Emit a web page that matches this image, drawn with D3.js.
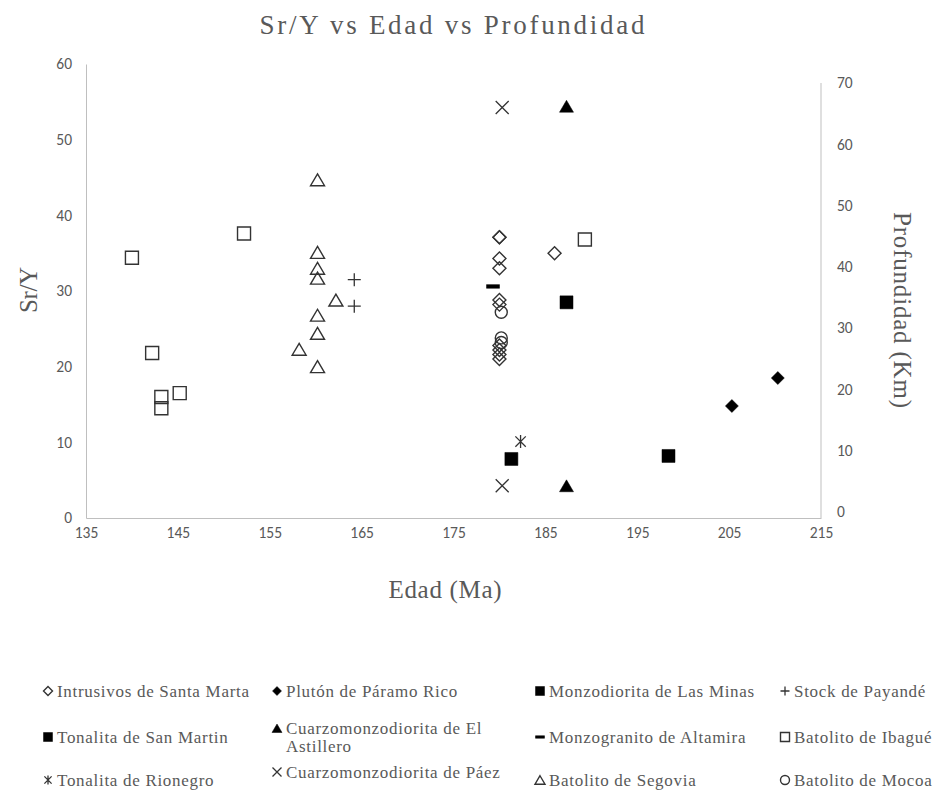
<!DOCTYPE html>
<html>
<head>
<meta charset="utf-8">
<script src="https://cdn.jsdelivr.net/npm/d3@7"></script>
<style>
  body { margin: 0; background: #fff; }
  svg { display: block; }
</style>
</head>
<body>
<div class="canvas"></div>
<script>
// ---- data ----
const xTicks = [135, 145, 155, 165, 175, 185, 195, 205, 215];
const leftTicks = [0, 10, 20, 30, 40, 50, 60];
const rightTicks = [0, 10, 20, 30, 40, 50, 60, 70];

const santaMartaAge = [180, 180, 180, 180, 180, 180, 180, 180, 180, 180, 186];
const santaMartaSrY = [37.1, 37.1, 34.3, 33.0, 28.8, 28.2, 22.8, 22.2, 21.6, 21.0, 35.0];
const paramoRicoAge = [205.3, 210.3];
const paramoRicoSrY = [14.8, 18.5];
const lasMinasAge = [187.3, 198.4];
const lasMinasSrY = [28.5, 8.2];
const payandeAge = [164.2, 164.2];
const payandeSrY = [31.5, 28.0];
const sanMartinAge = [181.3];
const sanMartinSrY = [7.8];
const astilleroAge = [187.3, 187.3];
const astilleroProf = [66.2, 4.2];
const altamiraAge = [179.3];
const altamiraSrY = [30.6];
const ibagueAge = [140.0, 152.2, 142.2, 143.2, 143.2, 145.2, 189.3];
const ibagueSrY = [34.4, 37.6, 21.8, 16.0, 14.5, 16.5, 36.8];
const rionegroAge = [182.3];
const rionegroSrY = [10.1];
const paezAge = [180.3, 180.3];
const paezProf = [66.0, 4.2];
const segoviaAge = [160.2, 160.2, 160.2, 160.2, 162.2, 160.2, 160.2, 158.2, 160.2];
const segoviaSrY = [44.7, 35.1, 33.0, 31.7, 28.8, 26.8, 24.4, 22.3, 20.0];
const mocoaAge = [180.2, 180.2, 180.2];
const mocoaSrY = [27.2, 23.8, 23.2];

// legend order, row by row
const series = [
  { name: 'Intrusivos de Santa Marta', shape: 'diamond', filled: false, axis: 'left', x: santaMartaAge, y: santaMartaSrY },
  { name: 'Plutón de Páramo Rico', shape: 'diamond', filled: true, axis: 'left', x: paramoRicoAge, y: paramoRicoSrY },
  { name: 'Monzodiorita de Las Minas', shape: 'square', filled: true, axis: 'left', x: lasMinasAge, y: lasMinasSrY },
  { name: 'Stock de Payandé', shape: 'plus', filled: false, axis: 'left', x: payandeAge, y: payandeSrY },
  { name: 'Tonalita de San Martin', shape: 'square', filled: true, axis: 'left', x: sanMartinAge, y: sanMartinSrY },
  { name: 'Cuarzomonzodiorita de El Astillero', shape: 'triangle', filled: true, axis: 'right', x: astilleroAge, y: astilleroProf },
  { name: 'Monzogranito de Altamira', shape: 'dash', filled: true, axis: 'left', x: altamiraAge, y: altamiraSrY },
  { name: 'Batolito de Ibagué', shape: 'square', filled: false, axis: 'left', x: ibagueAge, y: ibagueSrY },
  { name: 'Tonalita de Rionegro', shape: 'star', filled: false, axis: 'left', x: rionegroAge, y: rionegroSrY },
  { name: 'Cuarzomonzodiorita de Páez', shape: 'cross', filled: false, axis: 'right', x: paezAge, y: paezProf },
  { name: 'Batolito de Segovia', shape: 'triangle', filled: false, axis: 'left', x: segoviaAge, y: segoviaSrY },
  { name: 'Batolito de Mocoa', shape: 'circle', filled: false, axis: 'left', x: mocoaAge, y: mocoaSrY }
];

// ---- layout ----
const W = 937, H = 790;
const plot = { left: 86, right: 821, top: 64, bottom: 518 };
const gray = '#595959';
const axisGray = '#bfbfbf';
const serif = '"Liberation Serif", "Times New Roman", serif';
const tickFont = 'Carlito, Calibri, Lato, sans-serif';

const svg = d3.select('.canvas').append('svg')
    .attr('width', W)
    .attr('height', H);

const x = d3.scaleLinear().domain([135, 215]).range([plot.left, plot.right]);
const yL = d3.scaleLinear().domain([0, 60]).range([plot.bottom, plot.top]);
const yR = d3.scaleLinear().domain([0, 70]).range([511.5, 83]);

// marker path, s = half size
function markerPath(shape, s) {
  switch (shape) {
    case 'square': return `M${-s},${-s}h${2 * s}v${2 * s}h${-2 * s}Z`;
    case 'diamond': return `M0,${-s}L${s},0L0,${s}L${-s},0Z`;
    case 'triangle': return `M0,${-0.85 * s}L${s},${0.85 * s}L${-s},${0.85 * s}Z`;
    case 'plus': return `M${-s},0H${s}M0,${-s}V${s}`;
    case 'cross': return `M${-s},${-s}L${s},${s}M${-s},${s}L${s},${-s}`;
    case 'star': return `M${-0.8 * s},${-0.8 * s}L${0.8 * s},${0.8 * s}M${-0.8 * s},${0.8 * s}L${0.8 * s},${-0.8 * s}M0,${-s}V${s}`;
    case 'dash': return `M${-s},${-0.28 * s}h${2 * s}v${0.56 * s}h${-2 * s}Z`;
    case 'circle': return `M${s},0A${s},${s},0,1,1,${-s},0A${s},${s},0,1,1,${s},0Z`;
  }
}

function styleMarker(sel, d) {
  const lineOnly = ['plus', 'cross', 'star'].includes(d.shape);
  sel.attr('fill', d.filled ? '#000' : 'none')
     .attr('stroke', d.filled ? '#000' : '#333')
     .attr('stroke-width', lineOnly ? 1.3 : (d.filled ? 0.5 : 1.4));
}

// ---- axes ----
const gx = svg.append('g')
    .attr('transform', `translate(0,${plot.bottom})`)
    .call(d3.axisBottom(x).tickValues(xTicks).tickSize(0).tickPadding(9));

const gl = svg.append('g')
    .attr('transform', `translate(${plot.left},0)`)
    .call(d3.axisLeft(yL).tickValues(leftTicks).tickSize(0).tickPadding(14));

const gr = svg.append('g')
    .attr('transform', `translate(${plot.right},0)`)
    .call(d3.axisRight(yR).tickValues(rightTicks).tickSize(0).tickPadding(16));
gr.select('.domain').remove();
gr.append('line')
    .attr('y1', yR(70)).attr('y2', plot.bottom)
    .attr('stroke', axisGray);

[gx, gl, gr].forEach(g => {
  g.select('.domain').attr('stroke', axisGray);
  g.selectAll('text')
    .attr('fill', gray)
    .style('font-family', tickFont)
    .style('font-size', '15.5px');
});

// ---- points ----
series.forEach(d => {
  const yScale = d.axis === 'right' ? yR : yL;
  const size = d.shape === 'circle' ? 6 : (d.shape === 'triangle' ? 7 : 6.5);
  svg.append('g').selectAll('path')
    .data(d.x.map((v, i) => [v, d.y[i]]))
    .join('path')
    .attr('transform', p => `translate(${x(p[0])},${yScale(p[1])})`)
    .attr('d', markerPath(d.shape, size))
    .call(styleMarker, d);
});

// ---- titles ----
svg.append('text')
    .attr('x', 452).attr('y', 34)
    .attr('text-anchor', 'middle')
    .attr('textLength', 385).attr('lengthAdjust', 'spacing')
    .attr('fill', gray)
    .style('font-family', serif).style('font-size', '27px')
    .text('Sr/Y vs Edad vs Profundidad');

svg.append('text')
    .attr('x', 445).attr('y', 598)
    .attr('text-anchor', 'middle')
    .attr('textLength', 113).attr('lengthAdjust', 'spacing')
    .attr('fill', gray)
    .style('font-family', serif).style('font-size', '25px')
    .text('Edad (Ma)');

svg.append('text')
    .attr('transform', 'translate(37,290) rotate(-90)')
    .attr('text-anchor', 'middle')
    .attr('textLength', 46).attr('lengthAdjust', 'spacing')
    .attr('fill', gray)
    .style('font-family', serif).style('font-size', '25px')
    .text('Sr/Y');

svg.append('text')
    .attr('transform', 'translate(894,310) rotate(90)')
    .attr('text-anchor', 'middle')
    .attr('textLength', 196).attr('lengthAdjust', 'spacing')
    .attr('fill', gray)
    .style('font-family', serif).style('font-size', '25px')
    .text('Profundidad (Km)');

// ---- legend ----
const colX = [48, 277, 540, 785];
const rowY = [691, 737, 780];
const lineH = 17.5;
const wrapWidth = 235;
const legend = svg.append('g');
const wrappedAbove = [false, false, false, false];

series.forEach((d, i) => {
  const c = i % 4, r = Math.floor(i / 4);
  const cy = rowY[r] - (wrappedAbove[c] ? 8 : 0);
  const item = legend.append('g');

  const t = item.append('text')
      .attr('x', colX[c] + 9)
      .attr('fill', gray)
      .style('font-family', serif)
      .style('font-size', '17px')
      .style('letter-spacing', '0.7px');

  // greedy word wrap
  const words = d.name.split(' ');
  let lines = [], cur = [];
  words.forEach(w => {
    t.text(cur.concat(w).join(' '));
    if (cur.length && t.node().getComputedTextLength() > wrapWidth) {
      lines.push(cur.join(' '));
      cur = [w];
    } else cur.push(w);
  });
  lines.push(cur.join(' '));
  t.text(null);
  const y0 = cy - (lines.length - 1) * lineH / 2;
  lines.forEach((ln, k) => {
    t.append('tspan')
      .attr('x', colX[c] + 9)
      .attr('y', y0 + k * lineH)
      .attr('dy', '0.35em')
      .text(ln);
  });
  wrappedAbove[c] = lines.length > 1;

  item.append('path')
      .attr('transform', `translate(${colX[c]},${y0})`)
      .attr('d', markerPath(d.shape, d.shape === 'triangle' ? 5 : 4.5))
      .call(styleMarker, d);
});
</script>
</body>
</html>
